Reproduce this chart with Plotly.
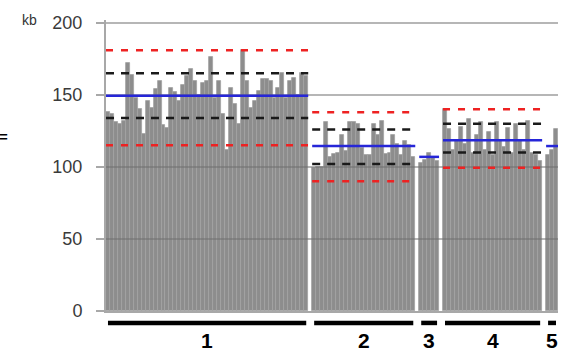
import plotly.graph_objects as go

# ---- data ----
segment_labels = ["1", "2", "3", "4", "5"]
seg1 = [138, 137, 131, 130, 132, 172, 164, 148, 140, 123, 146, 141, 154, 160, 129, 127,
        155, 152, 146, 157, 163, 168, 160, 150, 158, 160, 176, 148, 160, 137, 112, 155,
        144, 130, 181, 160, 141, 146, 153, 161, 161, 160, 148, 155, 165, 148, 160, 162,
        150, 165, 163]
seg2 = [99, 100, 100, 131, 107, 109, 110, 122, 111, 131, 131, 130, 113, 108, 108, 130,
        122, 132, 109, 110, 122, 116, 108, 118, 115, 107]
seg3 = [103, 105, 110, 106, 104]
seg4 = [140, 126, 112, 118, 128, 116, 133, 110, 122, 131, 112, 124, 108, 131, 118, 114,
        127, 110, 130, 118, 112, 132, 110, 108, 104]
seg5 = [108, 112, 126]
segments = [seg1, seg2, seg3, seg4, seg5]

mean_vals = [149.5, 114.5, 107, 118.5, 114.5]
sd_upper = [165, 126, None, 130, None]
sd_lower = [134, 102, None, 110, None]
lim_upper = [181, 138, None, 140, None]
lim_lower = [115, 90, None, 99.5, None]

y_ticks = [0, 50, 100, 150, 200]
y_unit = "kb"

# ---- build bar positions (one empty slot between segments) ----
xs, ys = [], []
seg_ranges = []
pos = 0
for i, seg in enumerate(segments):
    start = pos
    for v in seg:
        xs.append(pos)
        ys.append(v)
        pos += 1
    seg_ranges.append((start, pos - 1))
    if i < len(segments) - 1:
        xs.append(pos)
        ys.append(None)
        pos += 1
n_slots = pos

fig = go.Figure()
fig.add_trace(go.Bar(x=xs, y=ys, marker=dict(color="#8d8d8d", line=dict(color="#a2a2a2", width=0.8)),
                     hoverinfo="skip", showlegend=False))

# gridlines drawn over bars (semi-transparent)
gx, gy = [], []
for t in y_ticks[1:]:
    gx += [-0.5, n_slots - 0.5, None]
    gy += [t, t, None]
fig.add_trace(go.Scatter(x=gx, y=gy, mode="lines", line=dict(color="rgba(110,110,110,0.5)", width=2),
                         hoverinfo="skip", showlegend=False))


def add_level(values, color, dash, width):
    lx, ly = [], []
    for (s, e), v in zip(seg_ranges, values):
        if v is None:
            continue
        lx += [s - 0.5, e + 0.5, None]
        ly += [v, v, None]
    fig.add_trace(go.Scatter(x=lx, y=ly, mode="lines",
                             line=dict(color=color, width=width, dash=dash),
                             hoverinfo="skip", showlegend=False))


add_level(lim_upper, "#ee2222", "7px,8px", 2.5)
add_level(lim_lower, "#ee2222", "7px,8px", 2.5)
add_level(sd_upper, "#1a1a1a", "8px,7px", 2.5)
add_level(sd_lower, "#1a1a1a", "8px,7px", 2.5)
add_level(mean_vals, "#2626d8", None, 2.5)

# segment underlines and labels
shapes = []
annotations = []
for (s, e), lab in zip(seg_ranges, segment_labels):
    shapes.append(dict(type="line", xref="x", yref="paper", x0=s, x1=e, y0=-0.041, y1=-0.041,
                       line=dict(color="black", width=4.5)))
    annotations.append(dict(x=(s + e) / 2, y=-0.148, xref="x", yref="paper", text=lab,
                            showarrow=False, yanchor="bottom",
                            font=dict(family="Liberation Sans", size=21, color="black", weight="bold")))

annotations.append(dict(x=-0.17, y=1.0, xref="paper", yref="paper", text=y_unit, showarrow=False,
                        xanchor="center", yanchor="middle",
                        font=dict(family="Liberation Sans", size=14, color="#333333")))
# cropped mark at far left
annotations.append(dict(x=-0.226, y=0.6, xref="paper", yref="paper", text="=", showarrow=False,
                        xanchor="center", yanchor="middle",
                        font=dict(family="Liberation Sans", size=15, color="black", weight="bold")))

fig.update_layout(
    width=567, height=356,
    margin=dict(l=106, r=9, t=20, b=45, autoexpand=False),
    paper_bgcolor="white", plot_bgcolor="white",
    bargap=0,
    shapes=shapes, annotations=annotations,
    xaxis=dict(range=[-0.5, n_slots - 0.5], showticklabels=False, ticks="", showgrid=False,
               zeroline=False, showline=True, linecolor="#a8a8a8", linewidth=2, automargin=False),
    yaxis=dict(range=[0, 202], tickvals=y_ticks, ticks="outside", ticklen=8, tickcolor="#a8a8a8",
               tickwidth=2, showgrid=False, zeroline=False, showline=True, linecolor="#a8a8a8",
               linewidth=2, ticklabelstandoff=10, automargin=False,
               tickfont=dict(family="Liberation Sans", size=18, color="#3a3a3a")),
)

fig.write_html("out.html", config={"displayModeBar": False},
               post_script="document.body.style.margin='0';document.body.style.overflow='hidden';")
